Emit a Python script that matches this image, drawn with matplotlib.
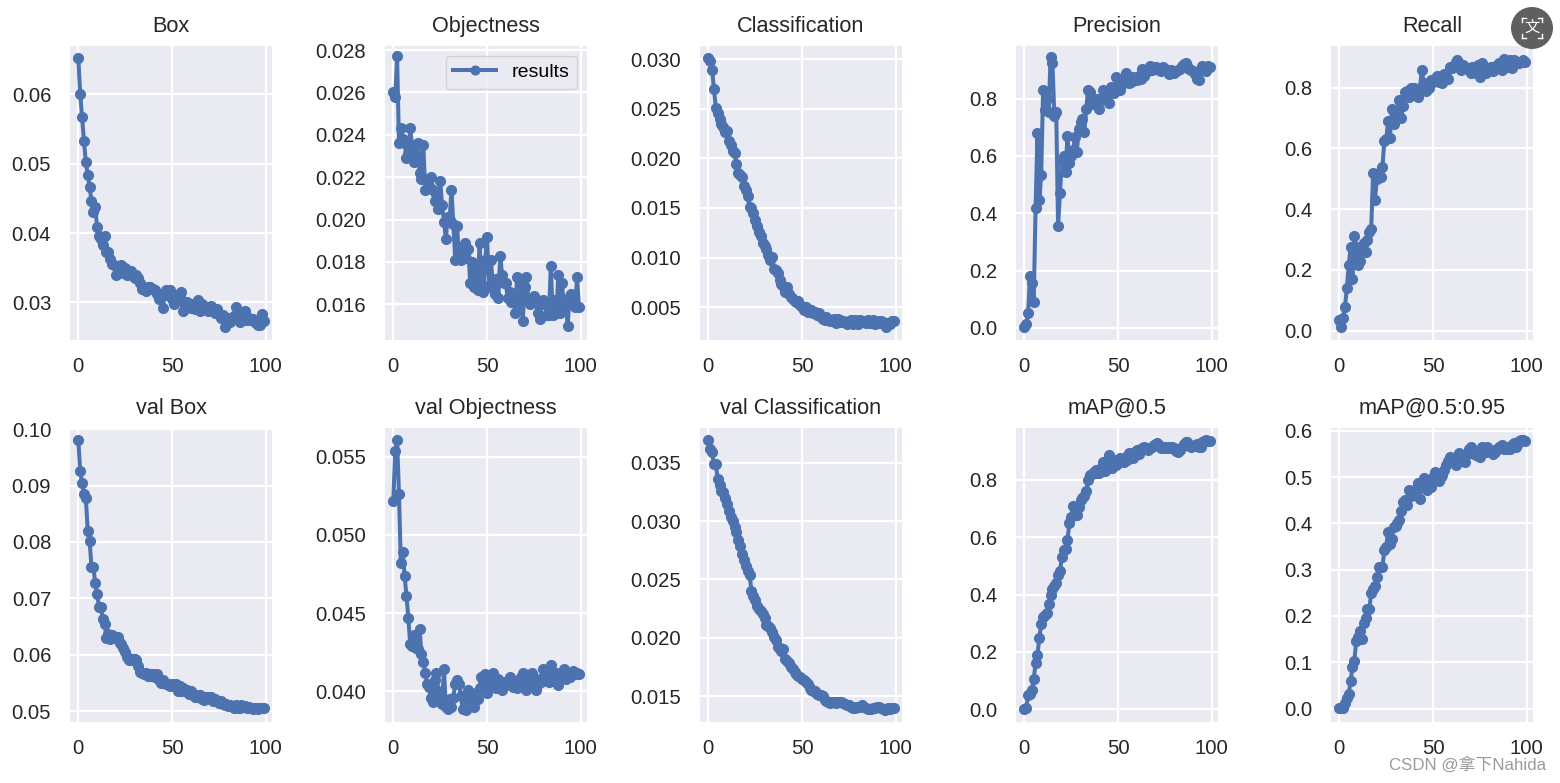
import numpy as np
import matplotlib
matplotlib.use("Agg")
import matplotlib.pyplot as plt
from matplotlib.patches import Circle

plt.rcParams['font.family'] = ['Liberation Sans', 'DejaVu Sans']

box = [.0652,.0600,.0567,.0533,.0502,.0484,.0467,.0446,.0431,.0437,
       .0409,.0396,.0392,.0383,.0396,.0372,.0372,.0362,.0356,.0354,
       .0340,.0352,.0345,.0354,.0342,.0350,.0339,.0345,.0346,.0338,
       .0335,.0339,.0335,.0328,.0320,.0320,.0316,.0322,.0322,.0320,
       .0320,.0318,.0312,.0305,.0308,.0292,.0310,.0318,.0312,.0318,
       .0305,.0298,.0310,.0305,.0308,.0315,.0288,.0296,.0300,.0298,
       .0292,.0298,.0290,.0298,.0303,.0288,.0298,.0295,.0290,.0288,
       .0292,.0295,.0288,.0285,.0290,.0283,.0278,.0282,.0265,.0275,
       .0278,.0272,.0278,.0280,.0293,.0276,.0272,.0282,.0275,.0288,
       .0275,.0278,.0275,.0276,.0272,.0270,.0267,.0268,.0284,.0273]
objectness = [.0260,.0258,.0277,.0236,.0243,.0238,.0236,.0229,.0231,.0243,
              .0235,.0227,.0231,.0236,.0222,.0219,.0235,.0214,.0219,.0216,
              .0220,.0214,.0209,.0212,.0205,.0218,.0207,.0199,.0191,.0201,
              .0200,.0214,.0198,.0181,.0197,.0182,.0181,.0187,.0189,.0182,
              .0186,.0170,.0180,.0168,.0178,.0167,.0189,.0170,.0166,.0181,
              .0192,.0168,.0181,.0171,.0165,.0172,.0163,.0183,.0174,.0170,
              .0170,.0163,.0166,.0161,.0165,.0156,.0173,.0160,.0170,.0152,
              .0168,.0173,.0162,.0160,.0162,.0164,.0162,.0156,.0153,.0160,
              .0162,.0160,.0155,.0155,.0178,.0155,.0162,.0156,.0174,.0156,
              .0170,.0158,.0160,.0150,.0164,.0165,.0160,.0159,.0173,.0159]
classification = [.0301,.0298,.0289,.0270,.0251,.0246,.0240,.0235,.0232,.0227,
                  .0228,.0218,.0214,.0207,.0205,.0194,.0185,.0183,.0181,.0172,
                  .0168,.0162,.0151,.0150,.0145,.0138,.0132,.0126,.0122,.0115,
                  .0112,.0109,.0103,.0098,.0101,.0088,.0087,.0084,.0077,.0073,
                  .0071,.0065,.0070,.0063,.0060,.0058,.0056,.0055,.0056,.0052,
                  .0050,.0047,.0050,.0045,.0047,.0047,.0044,.0045,.0042,.0044,
                  .0040,.0038,.0037,.0040,.0037,.0036,.0036,.0038,.0034,.0038,
                  .0037,.0035,.0036,.0035,.0033,.0036,.0037,.0033,.0037,.0034,
                  .0033,.0037,.0035,.0036,.0034,.0037,.0034,.0036,.0037,.0033,
                  .0036,.0034,.0036,.0035,.0032,.0030,.0034,.0033,.0036,.0036]
precision = [.003,.012,.05,.18,.155,.09,.42,.68,.445,.535,
             .83,.76,.80,.755,.945,.925,.74,.755,.355,.47,
             .58,.60,.545,.67,.575,.60,.62,.665,.615,.695,
             .72,.73,.685,.765,.83,.825,.78,.80,.795,.80,
             .765,.795,.83,.81,.80,.785,.84,.835,.82,.875,
             .83,.83,.85,.87,.89,.875,.855,.86,.875,.87,
             .865,.88,.87,.905,.88,.90,.895,.915,.90,.91,
             .91,.905,.90,.895,.91,.905,.90,.885,.90,.895,
             .89,.895,.90,.905,.915,.92,.925,.915,.905,.90,
             .895,.885,.87,.865,.90,.915,.91,.895,.915,.91]
recall = [.035,.012,.04,.078,.14,.215,.275,.17,.31,.275,
          .215,.23,.28,.29,.26,.30,.325,.335,.52,.43,
          .50,.52,.505,.54,.625,.63,.69,.635,.73,.68,
          .70,.72,.76,.70,.74,.785,.79,.77,.80,.795,
          .80,.78,.77,.80,.86,.815,.79,.81,.80,.825,
          .82,.83,.84,.82,.84,.815,.845,.84,.83,.87,
          .865,.87,.885,.89,.88,.86,.875,.87,.865,.86,
          .85,.87,.855,.85,.875,.835,.88,.85,.85,.86,
          .86,.87,.855,.87,.875,.88,.88,.86,.895,.885,
          .87,.89,.865,.89,.88,.885,.88,.885,.89,.885]
val_box = [.0980,.0925,.0905,.0885,.0878,.0820,.0802,.0756,.0756,.0727,
           .0708,.0685,.0685,.0663,.0655,.0630,.0637,.0628,.0635,.0630,
           .0632,.0632,.0620,.0618,.0612,.0605,.0595,.0590,.0590,.0592,
           .0592,.0590,.0580,.0570,.0568,.0565,.0568,.0562,.0565,.0562,
           .0565,.0560,.0565,.0555,.0550,.0555,.0550,.0548,.0548,.0545,
           .0548,.0545,.0548,.0535,.0545,.0535,.0540,.0535,.0538,.0530,
           .0535,.0528,.0525,.0528,.0525,.0528,.0522,.0520,.0525,.0525,
           .0522,.0525,.0518,.0522,.0518,.0515,.0518,.0512,.0510,.0512,
           .0508,.0510,.0508,.0505,.0510,.0505,.0505,.0510,.0507,.0508,
           .0505,.0507,.0505,.0503,.0506,.0505,.0504,.0505,.0505,.0505]
val_objectness = [.0522,.0554,.0561,.0526,.0482,.0489,.0474,.0461,.0447,.0430,
                  .0429,.0436,.0428,.0427,.0440,.0424,.0419,.0412,.0405,.0403,
                  .0396,.0393,.0407,.0412,.0400,.0396,.0392,.0414,.0390,.0389,
                  .0395,.0390,.0396,.0405,.0407,.0405,.0397,.0389,.0395,.0388,
                  .0401,.0395,.0399,.0390,.0398,.0395,.0402,.0409,.0407,.0411,
                  .0399,.0409,.0405,.0412,.0407,.0402,.0408,.0403,.0401,.0406,
                  .0404,.0406,.0409,.0405,.0403,.0405,.0402,.0407,.0409,.0412,
                  .0406,.0401,.0407,.0410,.0412,.0405,.0401,.0405,.0408,.0406,
                  .0414,.0408,.0412,.0406,.0417,.0410,.0408,.0412,.0404,.0409,
                  .0411,.0414,.0408,.0410,.0409,.0411,.0413,.0411,.0412,.0411]
val_classification = [.0370,.0362,.0359,.0349,.0349,.0336,.0331,.0326,.0325,.0320,
                      .0315,.0309,.0304,.0300,.0295,.0291,.0284,.0279,.0272,.0267,
                      .0262,.0257,.0254,.0240,.0236,.0232,.0227,.0225,.0223,.0220,
                      .0217,.0211,.0210,.0208,.0205,.0201,.0198,.0192,.0191,.0189,
                      .0190,.0182,.0180,.0178,.0175,.0173,.0171,.0169,.0167,.0166,
                      .0165,.0164,.0162,.0160,.0157,.0155,.0154,.0154,.0152,.0151,
                      .0151,.0150,.0147,.0146,.0145,.0144,.0145,.0145,.0144,.0145,
                      .0145,.0145,.0144,.0143,.0142,.0142,.0141,.0140,.0140,.0141,
                      .0141,.0141,.0142,.0141,.0140,.0139,.0139,.0139,.0140,.0140,
                      .0141,.0141,.0140,.0139,.0138,.0139,.0140,.0139,.0140,.0140]
map50 = [.003,.004,.05,.055,.068,.107,.16,.19,.25,.297,
         .32,.33,.336,.366,.40,.42,.43,.44,.467,.483,
         .53,.555,.56,.59,.648,.67,.708,.685,.677,.705,
         .73,.735,.743,.76,.80,.816,.82,.828,.835,.825,
         .822,.84,.863,.83,.86,.886,.85,.84,.87,.85,
         .857,.875,.865,.863,.88,.87,.892,.88,.874,.895,
         .903,.89,.905,.91,.915,.91,.903,.91,.915,.92,
         .925,.927,.92,.91,.91,.915,.91,.915,.912,.915,
         .91,.90,.898,.905,.915,.925,.93,.93,.92,.915,
         .917,.92,.925,.915,.915,.93,.935,.938,.935,.933]
map5095 = [.001,.001,.001,.012,.022,.032,.059,.089,.103,.146,
           .155,.168,.151,.184,.195,.215,.216,.25,.258,.264,
           .285,.306,.305,.305,.342,.35,.382,.355,.367,.393,
           .395,.40,.407,.427,.447,.45,.44,.472,.46,.47,
           .465,.475,.488,.452,.49,.497,.48,.472,.49,.479,
           .50,.51,.50,.492,.50,.504,.515,.526,.535,.543,
           .54,.535,.526,.54,.551,.545,.54,.533,.55,.56,
           .566,.555,.55,.548,.545,.544,.564,.56,.555,.564,
           .56,.555,.549,.555,.56,.565,.567,.569,.56,.56,
           .565,.56,.57,.573,.564,.57,.578,.581,.58,.578]
epochs = np.arange(100)

titles = ['Box', 'Objectness', 'Classification', 'Precision', 'Recall',
          'val Box', 'val Objectness', 'val Classification', 'mAP@0.5', 'mAP@0.5:0.95']
series = [box, objectness, classification, precision, recall,
          val_box, val_objectness, val_classification, map50, map5095]
ylims = [(.02458, .06698), (.01432, .02819), (.00168, .03134), (-.0427, .984), (-.031, .9376),
         (.04805, .1002), (.03804, .05684), (.01277, .0380), (-.044, .98), (-.029, .606)]
yticks = [[.03, .04, .05, .06],
          [.016, .018, .020, .022, .024, .026, .028],
          [.005, .010, .015, .020, .025, .030],
          [0, .2, .4, .6, .8],
          [0, .2, .4, .6, .8],
          [.05, .06, .07, .08, .09, .10],
          [.040, .045, .050, .055],
          [.015, .020, .025, .030, .035],
          [0, .2, .4, .6, .8],
          [0, .1, .2, .3, .4, .5, .6]]
yfmt = ['%.2f', '%.3f', '%.3f', '%.1f', '%.1f', '%.2f', '%.3f', '%.3f', '%.1f', '%.1f']

W, H = 1560, 783
col_px = [(70, 272), (385, 587), (700, 902), (1016, 1218), (1331, 1533)]
row_px = [(46, 340), (428, 722)]
BLUE = '#4c72b0'
INK = '#262626'

fig = plt.figure(figsize=(W / 100, H / 100), dpi=100, facecolor='white')

for i, (title, vals) in enumerate(zip(titles, series)):
    x0, x1 = col_px[i % 5]
    y0, y1 = row_px[i // 5]
    ax = fig.add_axes([x0 / W, 1 - y1 / H, (x1 - x0) / W, (y1 - y0) / H], facecolor='#eaeaf2')
    for s in ax.spines.values():
        s.set_visible(False)
    ax.grid(True, color='white', lw=1.6)
    ax.set_axisbelow(True)
    ax.plot(epochs, vals, '-o', color=BLUE, lw=2.9, ms=7.0, label='results')
    ax.set_xlim(-4.45, 103.3)
    ax.set_ylim(*ylims[i])
    ax.set_xticks([0, 50, 100])
    ax.set_yticks(yticks[i])
    ax.set_yticklabels([yfmt[i] % t for t in yticks[i]])
    ax.tick_params(length=0, labelsize=14.6, labelcolor=INK)
    ax.tick_params(axis='x', pad=12)
    ax.tick_params(axis='y', pad=13.5)
    ax.set_title(title, fontsize=15.6, color=INK, pad=10)
    if i == 1:
        ax.legend(loc='upper right', fontsize=14, frameon=True, facecolor='#eaeaf2',
                  edgecolor='#cccccc', framealpha=0.8, borderaxespad=0.5,
                  markerscale=0.9, handlelength=2.2)

# overlay in pixel coordinates: translate badge and watermark
ov = fig.add_axes([0, 0, 1, 1], facecolor='none', zorder=10)
ov.set_xlim(0, W)
ov.set_ylim(H, 0)
ov.axis('off')
ov.add_patch(Circle((1532, 28), 21, color='#5f5f5f', lw=0))
ov.text(1532, 28, '文', family=['Noto Sans CJK SC', 'DejaVu Sans'], fontsize=11,
        color='white', ha='center', va='center')
for sx in (-1, 1):
    for sy in (-1, 1):
        cx, cy = 1532 + sx * 10, 28 + sy * 10
        ov.plot([cx, cx - sx * 4], [cy, cy], color='white', lw=1)
        ov.plot([cx, cx], [cy, cy - sy * 4], color='white', lw=1)
ov.text(1546, 765, 'CSDN @拿下Nahida', family=['Liberation Sans', 'Noto Sans CJK SC'],
        fontsize=12.2, color='#9a9a9a', ha='right', va='center')

fig.savefig('out.png', dpi=100, facecolor='white')
